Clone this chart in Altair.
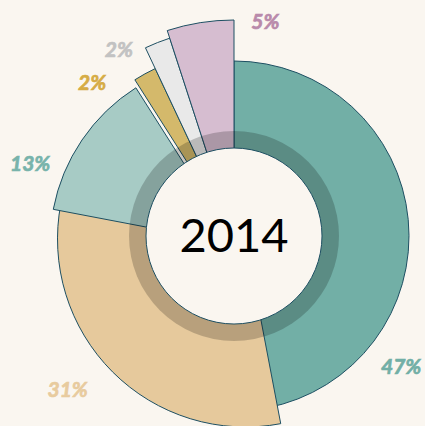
import math
import pandas as pd
import altair as alt

# ---- data ----
segments = ["Segment 1", "Segment 2", "Segment 3", "Segment 4", "Segment 5", "Segment 6"]
values = [47, 31, 13, 2, 2, 5]
labels = ["47%", "31%", "13%", "2%", "2%", "5%"]
year_label = "2014"

# ---- style ----
slice_colors = ["#72afa6", "#e6c99c", "#a7cbc5", "#d4b96b", "#e9e9e9", "#d6bdd0"]
label_colors = ["#72afa6", "#e8cb9e", "#78b3ab", "#d6ac45", "#c2c2c2", "#b98aab"]
outer_radius = [175, 188, 185, 185, 208, 216]
explode_dx = [0, 11.5, 1, 0, 0, 0]
explode_dy = [0, 3, 8, 0, 0, 0]
label_angle_deg = [128.3, 227.0, 289.3, 317.0, 328.1, 8.4]
label_radius = [213, 227.5, 216, 208, 218, 215]
CX, CY = 234, 236
HOLE_R, RING_R = 88, 105
BG = "#faf6f0"
EDGE = "#1d4f62"
W, H = 425, 426

total = sum(values)
ends = pd.Series(values).cumsum()
starts = ends - pd.Series(values)

df = pd.DataFrame({
    "segment": segments,
    "value": values,
    "label": labels,
    "start": starts,
    "end": ends,
    "order": list(range(len(values))),
    "color": slice_colors,
    "lcolor": label_colors,
    "r": outer_radius,
    "cx": [CX + d for d in explode_dx],
    "cy": [CY + d for d in explode_dy],
    "lx": [CX + r * math.sin(math.radians(a)) for r, a in zip(label_radius, label_angle_deg)],
    "ly": [CY - r * math.cos(math.radians(a)) for r, a in zip(label_radius, label_angle_deg)],
})

theta_scale = alt.Scale(domain=[0, total], range=[0, 2 * math.pi])

slices = alt.Chart(df).mark_arc(stroke=EDGE, strokeWidth=1).encode(
    theta=alt.Theta("start:Q", scale=theta_scale, stack=None),
    theta2="end:Q",
    radius=alt.Radius("r:Q", scale=None),
    x=alt.X("cx:Q", scale=None, axis=None),
    y=alt.Y("cy:Q", scale=None, axis=None),
    fill=alt.Fill("color:N", scale=None),
    order=alt.Order("order:Q"),
)

one = pd.DataFrame({"k": [0]})

ring = alt.Chart(one).mark_arc(
    theta=0, theta2=2 * math.pi, radius=RING_R, fill="black", fillOpacity=0.2
).encode(x=alt.value(CX), y=alt.value(CY))

hole = alt.Chart(one).mark_arc(
    theta=0, theta2=2 * math.pi, radius=HOLE_R, fill=BG, stroke=EDGE, strokeWidth=1
).encode(x=alt.value(CX), y=alt.value(CY))

center_text = alt.Chart(one).mark_text(
    text=year_label, font="Lato", fontSize=47, color="black",
    align="center", baseline="middle"
).encode(x=alt.value(CX), y=alt.value(CY + 2))

pct_labels = alt.Chart(df).mark_text(
    font="Lato", fontSize=21, fontWeight="bold", fontStyle="italic",
    align="center", baseline="middle", strokeWidth=0.7
).encode(
    x=alt.X("lx:Q", scale=None, axis=None),
    y=alt.Y("ly:Q", scale=None, axis=None),
    text="label:N",
    color=alt.Color("lcolor:N", scale=None),
    stroke=alt.Stroke("lcolor:N", scale=None),
)

chart = alt.layer(slices, ring, hole, center_text, pct_labels).properties(
    width=W, height=H, autosize="none", padding=0, background=BG
).configure_view(stroke=None)

chart.save("out.html", embed_options={"renderer": "svg", "actions": False})
